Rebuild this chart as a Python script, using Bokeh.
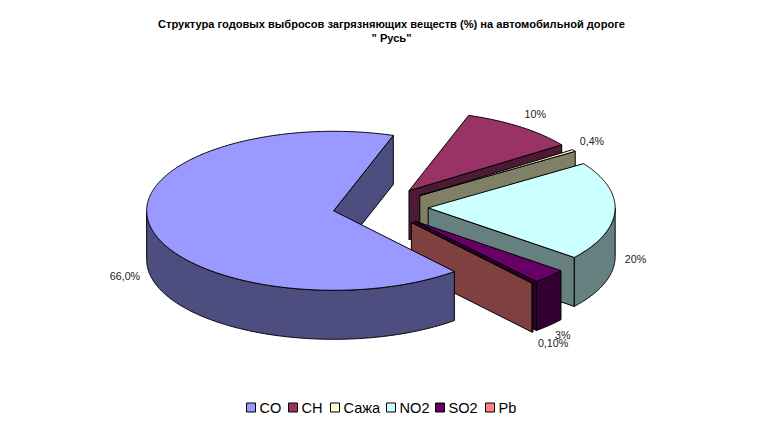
import numpy as np
from bokeh.plotting import figure
from bokeh.models import Range1d
from bokeh.core.properties import value
from bokeh.embed import file_html
from bokeh.resources import INLINE

categories = ["CO", "CH", "Сажа", "NO2", "SO2", "Pb"]
shares = [66.0, 10.0, 0.4, 20.0, 3.0, 0.1]
labels = ["66,0%", "10%", "0,4%", "20%", "3%", "0,10%"]
title_lines = ["Структура годовых выбросов загрязняющих веществ (%) на автомобильной дороге", "\" Русь\""]

top_colors = ["#9999FF", "#993366", "#FFFFCC", "#CCFFFF", "#660066", "#FF8080"]
side_colors = ["#4D4D80", "#4D1A33", "#808066", "#668080", "#330033", "#804040"]

# projection settings of the 3-D pie (screen pixels)
CX, CY = 380.0, 206.5
RX, RY = 187.0, 79.5
DEPTH = 49.0
EXPLODE = 0.255
START = 139.8
LABEL_OFFSET = [(-25, 50), (14.5, -13), (18, -9), (20.5, 48), (13.5, 59), (20.5, 60)]
LEGEND_BOX_X = [246, 288, 330, 386, 435, 485]
LEGEND_Y = 407

W, H = 773, 417
p = figure(width=W, height=H, output_backend="svg", toolbar_location=None,
           x_range=Range1d(0, W), y_range=Range1d(H, 0),
           min_border=0, outline_line_color=None, background_fill_color="white")
p.axis.visible = False
p.grid.visible = False


def pt(theta):
    t = np.radians(theta)
    return RX * np.sin(t), -RY * np.cos(t)


def poly(xs, ys, color):
    p.patch(list(xs), list(ys), fill_color=color, line_color="black", line_width=1)


total = sum(shares)
spans = []
a = START
for s in shares:
    b = a + s / total * 360.0
    spans.append((a, b))
    a = b

apexes = []
for a, b in spans:
    dx, dy = pt((a + b) / 2)
    apexes.append((CX + EXPLODE * dx, CY + EXPLODE * dy))


def draw_slice(i):
    a, b = spans[i]
    ax, ay = apexes[i]
    # radial walls that face the viewer
    for ang, vis in ((a, np.sin(np.radians(a)) < 0), (b, np.sin(np.radians(b)) > 0)):
        if vis:
            ex, ey = pt(ang)
            poly([ax, ax + ex, ax + ex, ax], [ay, ay + ey, ay + ey + DEPTH, ay + DEPTH], side_colors[i])
    # outer rim, front-facing part
    for k in (0, 1):
        lo = max(a, 90 + 360 * k)
        hi = min(b, 270 + 360 * k)
        if hi > lo:
            th = np.linspace(lo, hi, max(3, int(hi - lo) * 2))
            ex, ey = pt(th)
            xs = np.concatenate([ax + ex, (ax + ex)[::-1]])
            ys = np.concatenate([ay + ey, (ay + ey + DEPTH)[::-1]])
            poly(xs, ys, side_colors[i])
    # top face
    th = np.linspace(a, b, max(3, int(b - a) * 2))
    ex, ey = pt(th)
    poly(np.concatenate([[ax], ax + ex]), np.concatenate([[ay], ay + ey]), top_colors[i])


for i in [1, 2, 3, 4, 5, 0]:
    draw_slice(i)

# data labels
lx, ly = [], []
for i, (a, b) in enumerate(spans):
    dx, dy = pt((a + b) / 2)
    lx.append(apexes[i][0] + dx + LABEL_OFFSET[i][0])
    ly.append(apexes[i][1] + dy + LABEL_OFFSET[i][1])
p.text(lx, ly, text=labels, text_font=value("Liberation Sans"), text_font_size="10.7px",
       text_color="#222222", text_align="center", text_baseline="middle")

# title
p.text([391, 391], [23, 37], text=title_lines, text_font=value("Liberation Sans"),
       text_font_size="11.1px", text_font_style="bold", text_color="black",
       text_align="center", text_baseline="middle")

# legend
bx = np.array(LEGEND_BOX_X, dtype=float)
p.quad(left=bx, right=bx + 9, top=LEGEND_Y - 4.5, bottom=LEGEND_Y + 4.5,
       fill_color=top_colors, line_color="black", line_width=1)
p.text(bx + 13, [LEGEND_Y] * len(bx), text=categories, text_font=value("Liberation Sans"),
       text_font_size="14.6px", text_color="black", text_align="left", text_baseline="middle")

open("out.html", "w").write(file_html(p, INLINE))
